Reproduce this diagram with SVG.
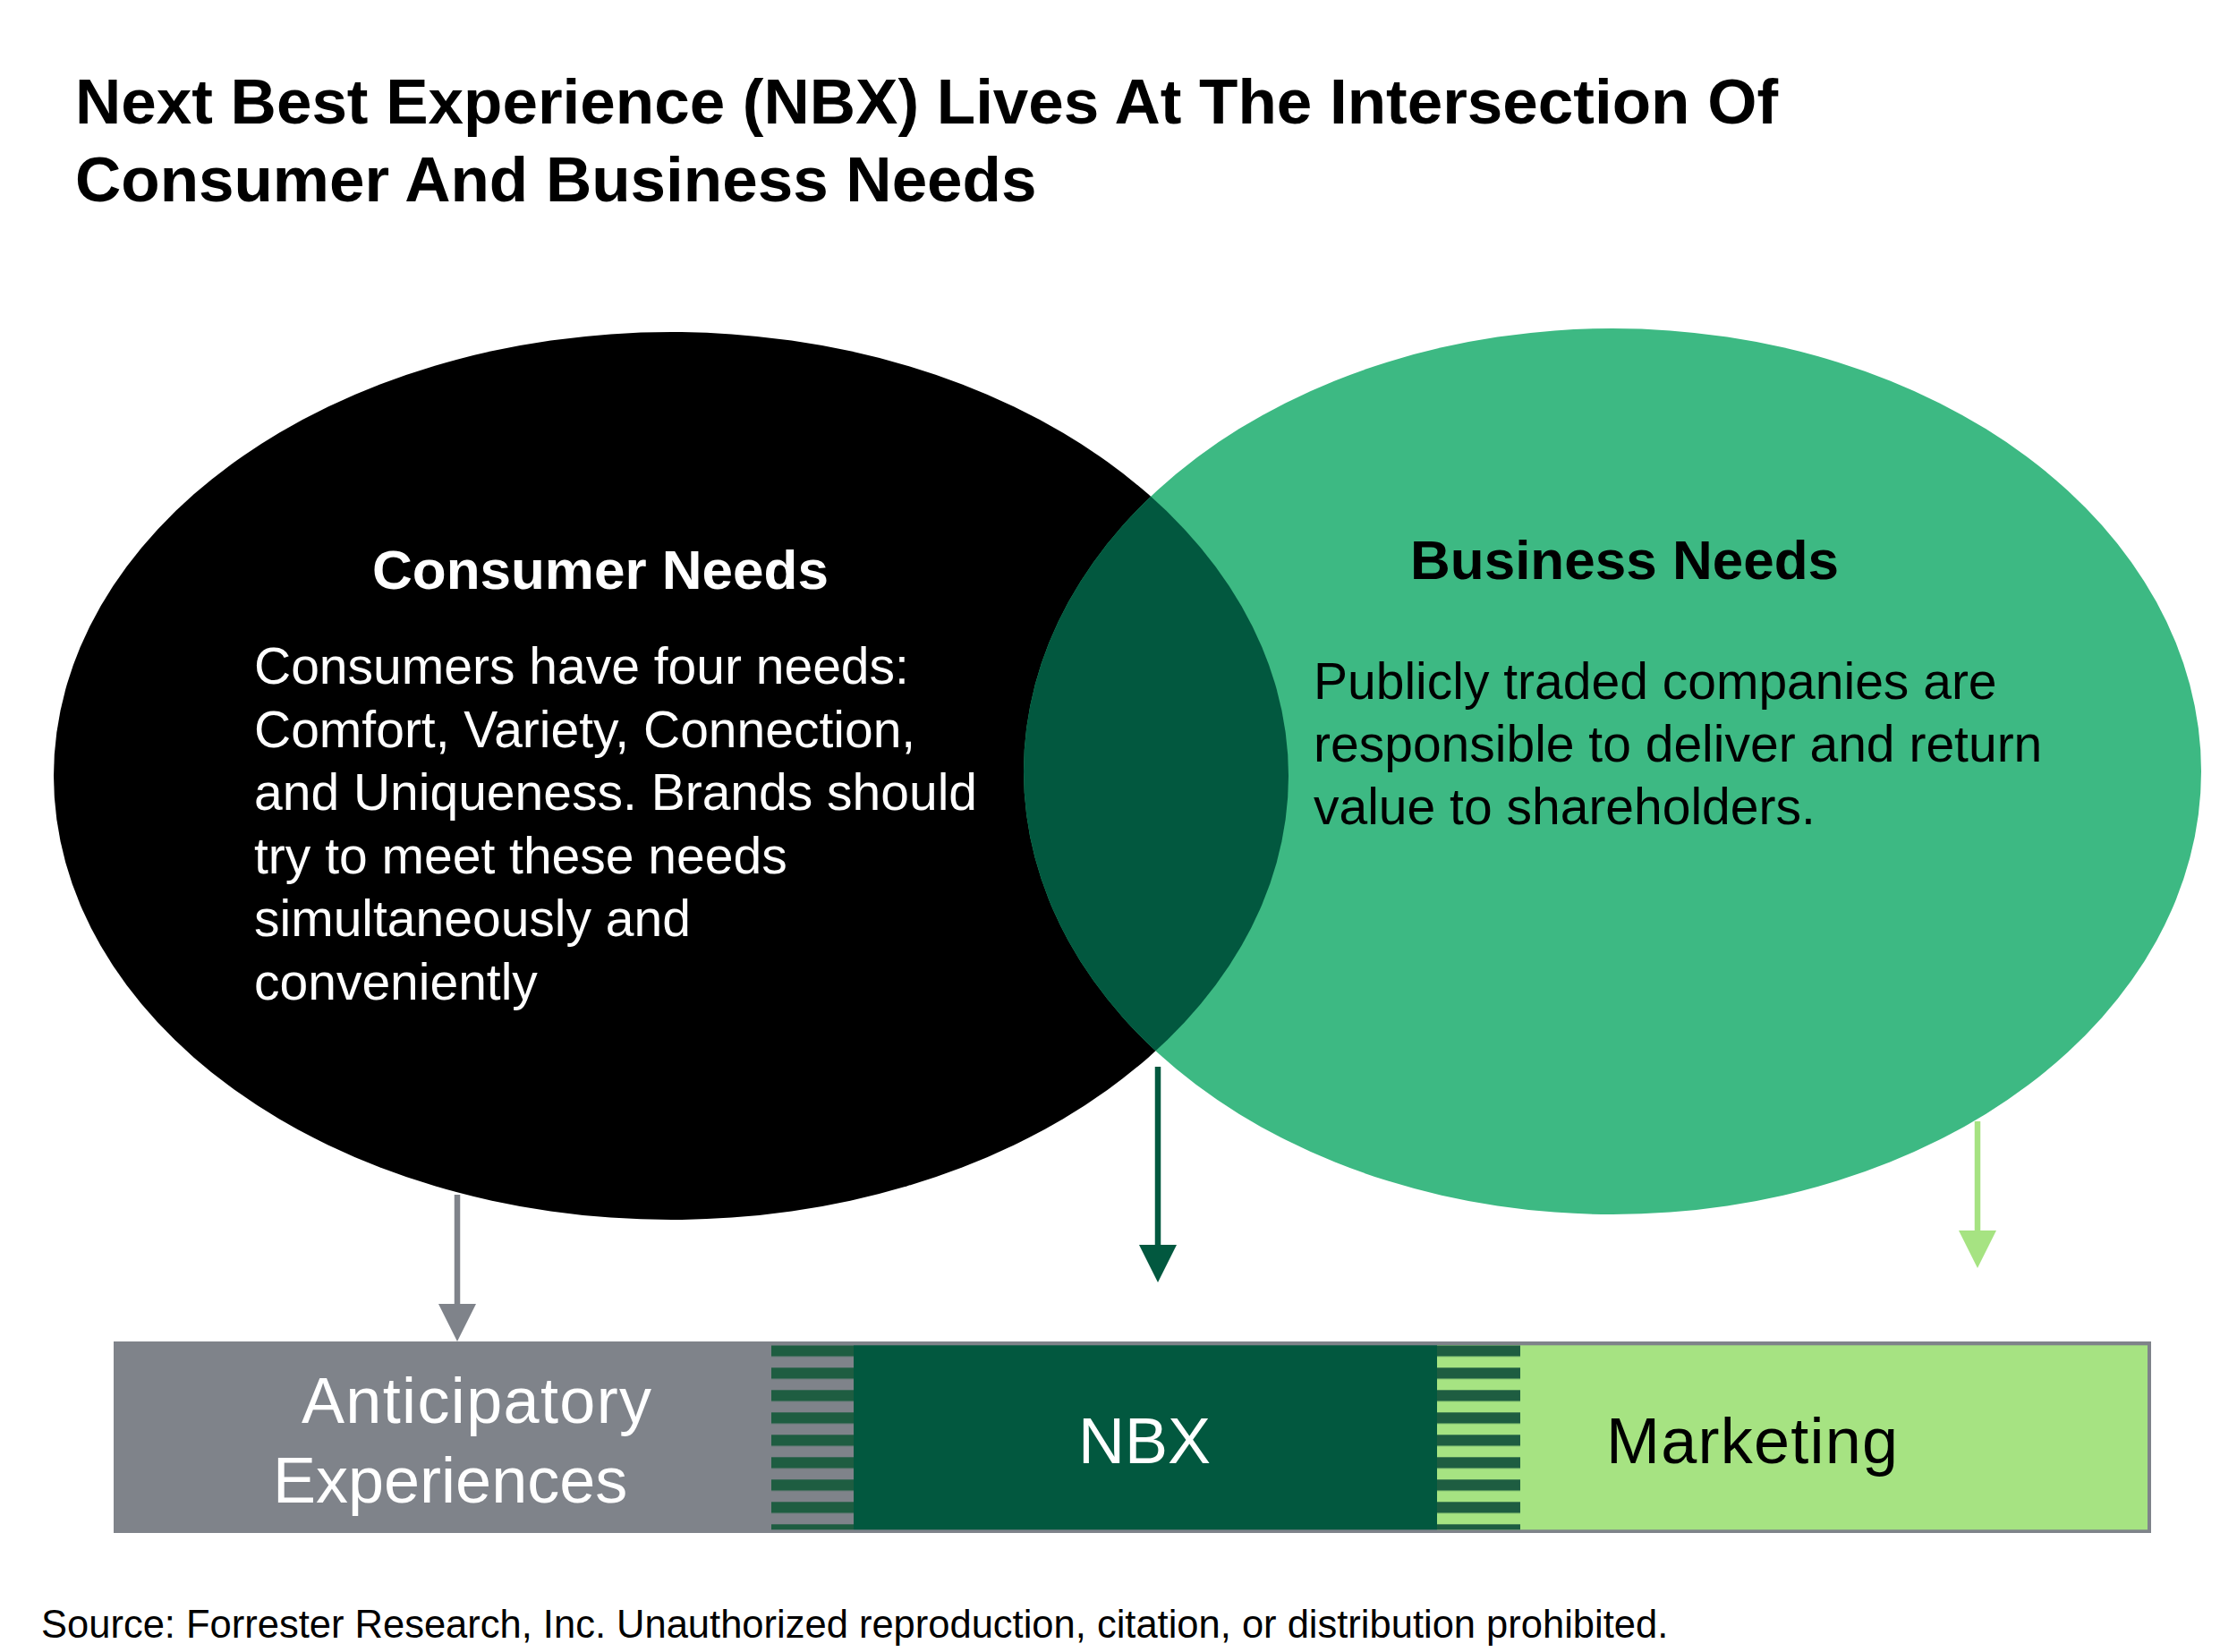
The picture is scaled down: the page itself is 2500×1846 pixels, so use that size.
<svg xmlns="http://www.w3.org/2000/svg" width="2500" height="1846" viewBox="0 0 2500 1846">
  <style>
    .title { font-family: "Liberation Sans", Arial, sans-serif; font-weight: bold; font-size: 71px; fill: #000; }
    .head { font-family: "Liberation Sans", Arial, sans-serif; font-weight: bold; font-size: 62px; }
    .body { font-family: "Liberation Sans", Arial, sans-serif; font-size: 57px; }
    .bar { font-family: "Liberation Sans", Arial, sans-serif; font-size: 72px; }
    .src { font-family: "Liberation Sans", Arial, sans-serif; font-size: 43.5px; fill: #000; }
    .conn { stroke-width: 6.5; fill: none; }
  </style>
  <defs>
    <clipPath id="clipRight">
      <ellipse cx="1802" cy="862" rx="658" ry="495"/>
    </clipPath>
    <pattern id="stripes" patternUnits="userSpaceOnUse" x="0" y="1503.3" width="100" height="25">
      <rect x="0" y="0" width="100" height="12.4" fill="#1E5D41"/>
    </pattern>
    <marker id="headGray" viewBox="0 0 42 42" refX="0" refY="21" markerWidth="42" markerHeight="42" markerUnits="userSpaceOnUse" orient="auto">
      <path d="M0,0 L42,21 L0,42 Z" fill="#7F838A"/>
    </marker>
    <marker id="headDark" viewBox="0 0 42 42" refX="0" refY="21" markerWidth="42" markerHeight="42" markerUnits="userSpaceOnUse" orient="auto">
      <path d="M0,0 L42,21 L0,42 Z" fill="#02583F"/>
    </marker>
    <marker id="headLight" viewBox="0 0 42 42" refX="0" refY="21" markerWidth="42" markerHeight="42" markerUnits="userSpaceOnUse" orient="auto">
      <path d="M0,0 L42,21 L0,42 Z" fill="#A6E382"/>
    </marker>
  </defs>

  <rect x="0" y="0" width="2500" height="1846" fill="#FFFFFF"/>

  <g id="title">
    <text class="title" x="84" y="138">Next Best Experience (NBX) Lives At The Intersection Of</text>
    <text class="title" x="84" y="225">Consumer And Business Needs</text>
  </g>

  <g id="consumer-needs">
    <ellipse cx="750" cy="867" rx="690" ry="496" fill="#000000"/>
  </g>
  <g id="business-needs">
    <ellipse cx="1802" cy="862" rx="658" ry="495" fill="#3DB983"/>
  </g>
  <g id="intersection">
    <ellipse cx="750" cy="867" rx="690" ry="496" fill="#02583F" clip-path="url(#clipRight)"/>
  </g>

  <g id="consumer-needs-text">
    <text class="head" x="416" y="658" fill="#FFFFFF">Consumer Needs</text>
    <text class="body" fill="#FFFFFF">
      <tspan x="284" y="764">Consumers have four needs:</tspan>
      <tspan x="284" y="835">Comfort, Variety, Connection,</tspan>
      <tspan x="284" y="905">and Uniqueness. Brands should</tspan>
      <tspan x="284" y="976">try to meet these needs</tspan>
      <tspan x="284" y="1046">simultaneously and</tspan>
      <tspan x="284" y="1117">conveniently</tspan>
    </text>
  </g>

  <g id="business-needs-text">
    <text class="head" x="1576" y="647" fill="#000000">Business Needs</text>
    <text class="body" fill="#000000">
      <tspan x="1468" y="781">Publicly traded companies are</tspan>
      <tspan x="1468" y="851">responsible to deliver and return</tspan>
      <tspan x="1468" y="921">value to shareholders.</tspan>
    </text>
  </g>

  <g id="connectors">
    <line class="conn" x1="511" y1="1335" x2="511" y2="1457" stroke="#7F838A" marker-end="url(#headGray)"/>
    <line class="conn" x1="1294" y1="1192" x2="1294" y2="1391" stroke="#02583F" marker-end="url(#headDark)"/>
    <line class="conn" x1="2210" y1="1253" x2="2210" y2="1375" stroke="#A6E382" marker-end="url(#headLight)"/>
  </g>

  <g id="bar">
    <rect x="127" y="1499" width="2277" height="214" fill="#7F838A"/>
    <rect x="862" y="1503.3" width="92" height="206" fill="url(#stripes)"/>
    <rect x="954" y="1503.3" width="652" height="206" fill="#02583F"/>
    <rect x="1606" y="1503.3" width="794" height="206" fill="#A6E382"/>
    <rect x="1606" y="1503.3" width="93" height="206" fill="url(#stripes)"/>
  </g>
  <g id="anticipatory-experiences">
    <text class="bar" x="337" y="1590" fill="#FFFFFF" textLength="391">Anticipatory</text>
    <text class="bar" x="305" y="1679" fill="#FFFFFF">Experiences</text>
  </g>
  <g id="nbx">
    <text class="bar" x="1205" y="1635" fill="#FFFFFF">NBX</text>
  </g>
  <g id="marketing">
    <text class="bar" x="1795" y="1635" fill="#000000" textLength="326">Marketing</text>
  </g>

  <g id="source">
    <text class="src" x="46" y="1830">Source: Forrester Research, Inc. Unauthorized reproduction, citation, or distribution prohibited.</text>
  </g>
</svg>
